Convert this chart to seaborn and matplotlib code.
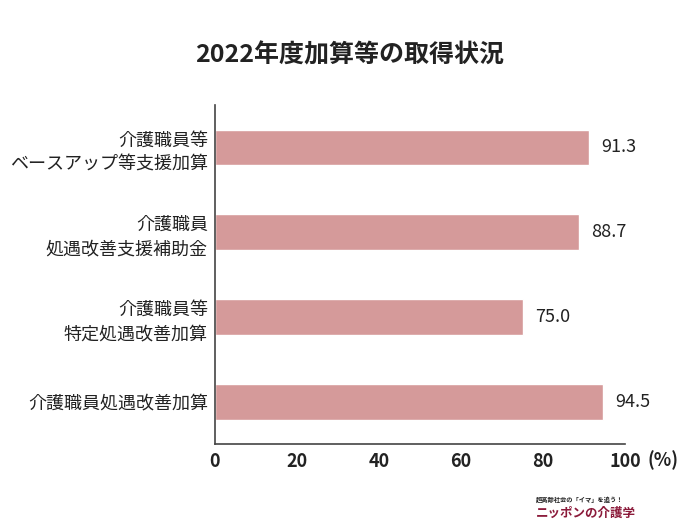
import matplotlib
matplotlib.use("Agg")
import matplotlib.pyplot as plt
import seaborn as sns
import pandas as pd

# data
categories = [
    "介護職員等\nベースアップ等支援加算",
    "介護職員\n処遇改善支援補助金",
    "介護職員等\n特定処遇改善加算",
    "介護職員処遇改善加算",
]
rates = [91.3, 88.7, 75.0, 94.5]
x_ticks = [0, 20, 40, 60, 80, 100]
x_tick_labels = ["0", "20", "40", "60", "80", "100"]

df = pd.DataFrame({"category": categories, "rate": rates})

sns.set_style("white")
plt.rcParams["font.family"] = ["Noto Sans CJK JP", "DejaVu Sans"]

fig = plt.figure(figsize=(7, 5.25), dpi=100)
ax = fig.add_axes([0.307, 0.154, 0.586, 0.646])

sns.barplot(data=df, x="rate", y="category", color="#D59A9A", saturation=1,
            width=0.42, ax=ax)

for i, v in enumerate(rates):
    ax.text(v + 3.0, i, f"{v:.1f}", va="center", ha="left", fontsize=13, color="#222222")

ax.set_xlim(0, 100)
ax.set_xticks(x_ticks)
ax.set_xticklabels(x_tick_labels, fontsize=13, fontweight="bold", color="#222222")
ax.tick_params(axis="y", labelsize=13, labelcolor="#222222", length=0, pad=5)
ax.tick_params(axis="x", length=0, pad=6)
ax.set_xlabel("")
ax.set_ylabel("")
for lab in ax.get_yticklabels():
    lab.set_linespacing(1.45)

sns.despine(ax=ax)
for s in ["left", "bottom"]:
    ax.spines[s].set_color("#444444")
    ax.spines[s].set_linewidth(1.2)

fig.text(0.947, 0.124, "(%)", ha="center", va="center", fontsize=13,
         fontweight="bold", color="#222222")

fig.text(0.5, 0.895, "2022年度加算等の取得状況", ha="center", va="center",
         fontsize=18, fontweight="bold", color="#222222")

# logo text
fig.text(0.765, 0.048, "超高齢社会の「イマ」を追う！", ha="left", va="center",
         fontsize=4.5, fontweight="bold", color="#222222")
fig.text(0.765, 0.022, "ニッポンの介護学", ha="left", va="center",
         fontsize=9, fontweight="bold", color="#8B1A3A")

fig.savefig("out.png", dpi=100)
